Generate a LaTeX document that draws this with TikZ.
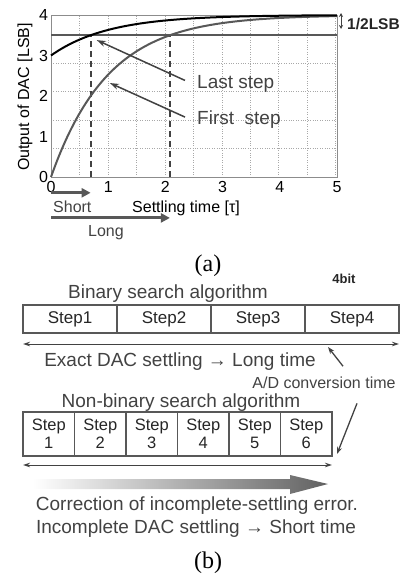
\documentclass[tikz,border=0pt]{standalone}
\usepackage{fontspec}
\setmainfont{Liberation Sans}
\newfontfamily\capfont{Liberation Serif}
\usetikzlibrary{arrows.meta,positioning}
\definecolor{inkgray}{HTML}{424242}
\definecolor{linegray}{HTML}{585858}
\definecolor{framegray}{HTML}{8C8C8C}
\definecolor{gridgray}{HTML}{A8A8A8}

\tikzset{
  lbl/.style={inner sep=0pt, text=inkgray, font=\fontsize{19}{22}\selectfont},
  smalllbl/.style={inner sep=0pt, text=inkgray, font=\fontsize{16}{18}\selectfont},
  plotlbl/.style={inner sep=0pt, font=\fontsize{16}{18}\selectfont},
  caplbl/.style={inner sep=0pt, font=\capfont\fontsize{24}{26}\selectfont},
  stepbox/.style={draw=linegray, line width=1.5pt, outer sep=0pt, inner sep=0pt,
    minimum width=94pt, minimum height=28pt, text=black!85, font=\fontsize{17}{19}\selectfont},
  nstepbox/.style={stepbox, minimum width=51.5pt, minimum height=44pt, align=center,
    font=\fontsize{16.5}{18}\selectfont},
  span/.style={{Stealth[length=7pt,width=4.5pt]}-{Stealth[length=7pt,width=4.5pt]}, line width=1pt, draw=inkgray},
  pointer/.style={-{Stealth[length=9pt,width=6pt]}, line width=1.5pt, draw=inkgray},
  fatarrow/.style={-{Triangle[length=9pt,width=9pt]}, line width=3pt, draw=linegray},
}

\begin{document}
\begin{tikzpicture}[x=1pt, y=-1pt]
\useasboundingbox (0,0) rectangle (411,580);

% (a) DAC output against settling time
\begin{scope}[shift={(51,177)}, x=57.2pt, y=40.5pt]
  \draw[gridgray, dotted] (0,0) grid (5,4);
  \draw[framegray, line width=0.8pt] (0,0) rectangle (5,4);
  \draw[inkgray, line width=2pt, dash pattern=on 6pt off 4pt] (0.693,0) -- (0.693,3.5);
  \draw[inkgray, line width=2pt, dash pattern=on 6pt off 4pt] (2.079,0) -- (2.079,3.5);
  \draw[linegray, line width=2pt] (0,3.5) -- (5,3.5);
  \draw[linegray, line width=2pt, domain=0:5, samples=80, smooth] plot (\x, {4*(1-exp(-\x))});
  \draw[black, line width=2pt, domain=0:5, samples=80, smooth] plot (\x, {4-exp(-\x)});
  \foreach \v in {0,...,4}
    \node[plotlbl, anchor=east] (ytick\v) at (-0.05,\v) {\v};
  \foreach \v in {0,...,5}
    \node[plotlbl, anchor=base] (xtick\v) at (\v,-0.39) {\v};
  \coordinate (lasttip) at (0.80,3.38);
  \coordinate (firsttip) at (1.03,2.32);
  \coordinate (shortbeg) at (0,-0.39);
  \coordinate (shortend) at (0.693,-0.39);
  \coordinate (longbeg) at (0,-1.01);
  \coordinate (longend) at (2.079,-1.01);
\end{scope}

\node[plotlbl, rotate=90] (ylabel) at (25,97) {Output of DAC [LSB]};
\node[lbl, anchor=base west] (lastlbl) at (197,89) {Last step};
\node[lbl, anchor=base west] (firstlbl) at (197,125) {First\ \ step};
\draw[pointer] ([shift={(-12pt,4pt)}]lastlbl.west) -- (lasttip);
\draw[pointer] ([shift={(-12pt,3pt)}]firstlbl.west) -- (firsttip);

\node[inner sep=0pt, anchor=west, text=black!85, font=\bfseries\fontsize{15.5}{17}\selectfont] (half) at (347,24) {1/2LSB};
\draw[{Stealth[length=4pt,width=4pt]}-{Stealth[length=4pt,width=4pt]}, line width=1pt, inkgray]
  ([shift={(-6pt,11pt)}]half.west) -- ([shift={(-6pt,-5pt)}]half.west);

\draw[fatarrow] (shortbeg) -- (shortend);
\draw[fatarrow] (longbeg) -- (longend);
\node[plotlbl, text=inkgray, anchor=base west] (short) at (53,212) {Short};
\node[plotlbl, anchor=base west] (settle) at (132,212) {Settling time [τ]};
\node[plotlbl, text=inkgray, anchor=base west] (long) at (88,236) {Long};

\node[caplbl, anchor=base] (capa) at (208,271) {(a)};

% (b) binary and non-binary search
\node[lbl, anchor=base] (bintitle) at (168,298) {Binary search algorithm};
\node[inner sep=0pt, text=black!85, font=\bfseries\fontsize{13}{15}\selectfont] (bits) at (344,279) {4bit};
\node[stepbox, anchor=west] (b1) at (23,319) {Step1};
\foreach \i in {2,3,4}{
  \pgfmathtruncatemacro\prev{\i-1}
  \node[stepbox, right=0pt of b\prev] (b\i) {Step\i};
}
\draw[span] ([yshift=-11pt]b1.south west) -- ([yshift=-11pt]b4.south east);
\node[lbl, anchor=base] (exact) at (180,366) {Exact DAC settling → Long time};

\node[smalllbl, anchor=base] (adtime) at (324,388) {A/D conversion time};
\coordinate (binmark) at (328,347);
\draw[-{Stealth[length=7pt,width=5pt]}, line width=1.3pt, inkgray]
  ([shift={(19pt,10pt)}]adtime.north) -- (binmark);

\node[lbl, anchor=base] (nbtitle) at (181,407) {Non-binary search algorithm};
\node[nstepbox, anchor=west] (n1) at (23,434) {Step\\1};
\foreach \i in {2,...,6}{
  \pgfmathtruncatemacro\prev{\i-1}
  \node[nstepbox, right=0pt of n\prev] (n\i) {Step\\\i};
}
\draw[span] ([yshift=-9pt]n1.south west) -- ([yshift=-9pt]n6.south east);
\draw[-{Stealth[length=7pt,width=5pt]}, line width=1.3pt, inkgray]
  ([shift={(33pt,-15pt)}]adtime.south) -- ([shift={(5pt,2pt)}]n6.south east);

\shade[left color=white, right color=black!62]
  (33,479) -- (290,479) -- (290,475) -- (328,484) -- (290,494) -- (290,489) -- (33,489) -- cycle;
\node[lbl, anchor=base] (corr) at (197,510) {Correction of incomplete-settling error.};
\node[lbl, anchor=base] (quick) at (196,533) {Incomplete DAC settling → Short time};

\node[caplbl, anchor=base] (capb) at (208,568) {(b)};
\end{tikzpicture}
\end{document}
